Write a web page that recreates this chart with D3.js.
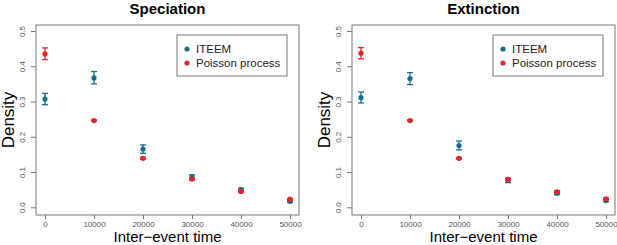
<!DOCTYPE html>
<html>
<head>
<meta charset="utf-8">
<script src="https://cdn.jsdelivr.net/npm/d3@7"></script>
<style>
  body { margin: 0; background: #fff; }
  text { font-family: "Liberation Sans", Arial, sans-serif; }
</style>
</head>
<body>
<svg id="chart"></svg>
<script>
let times = [0, 10000, 20000, 30000, 40000, 50000]
let xTicks = [0, 10000, 20000, 30000, 40000, 50000]
let yTicks = [0.0, 0.1, 0.2, 0.3, 0.4, 0.5]

// Speciation
let specIteem = [0.307, 0.367, 0.165, 0.087, 0.050, 0.017]
let specIteemLo = [0.291, 0.350, 0.153, 0.082, 0.046, 0.014]
let specIteemHi = [0.323, 0.385, 0.177, 0.092, 0.054, 0.020]
let specPois = [0.435, 0.246, 0.139, 0.080, 0.045, 0.023]
let specPoisLo = [0.419, 0.244, 0.137, 0.077, 0.042, 0.021]
let specPoisHi = [0.452, 0.248, 0.141, 0.083, 0.048, 0.025]

// Extinction
let extIteem = [0.311, 0.365, 0.175, 0.076, 0.040, 0.019]
let extIteemLo = [0.296, 0.348, 0.163, 0.070, 0.036, 0.016]
let extIteemHi = [0.327, 0.382, 0.188, 0.082, 0.044, 0.022]
let extPois = [0.437, 0.246, 0.139, 0.079, 0.044, 0.024]
let extPoisLo = [0.421, 0.244, 0.137, 0.076, 0.041, 0.022]
let extPoisHi = [0.453, 0.248, 0.141, 0.082, 0.047, 0.026]

let seriesNames = ['ITEEM', 'Poisson process']
let colors = ['#176d8c', '#e3262c']

let width = 617,
    height = 245

let $svg = d3.select('#chart')
    .attr('width', width)
    .attr('height', height)

function drawPanel(offsetX, title, series) {
    let box = {left: offsetX + 36, right: offsetX + 299, top: 25, bottom: 215}

    let xScale = d3.scaleLinear()
        .domain([0, 50000])
        .range([box.left + 9, box.right - 9])

    let yScale = d3.scaleLinear()
        .domain([0, 0.5])
        .range([207.3, 31])

    let $g = $svg.append('g')

    $g.append('rect')
        .attr('x', box.left)
        .attr('y', box.top)
        .attr('width', box.right - box.left)
        .attr('height', box.bottom - box.top)
        .attr('fill', 'none')
        .attr('stroke', '#777')
        .attr('stroke-width', 1)

    // y axis
    let yAxis = d3.axisLeft(yScale)
        .tickValues(yTicks)
        .tickSize(5)
        .tickFormat(d3.format('.1f'))
    let $y = $g.append('g')
        .attr('transform', 'translate(' + box.left + ',0)')
        .call(yAxis)
    $y.select('.domain').remove()
    $y.selectAll('.tick line').attr('stroke', '#777')
    $y.selectAll('.tick text')
        .attr('fill', '#555')
        .attr('font-size', 8)
        .attr('x', 0)
        .attr('y', 0)
        .attr('dy', 0)
        .attr('text-anchor', 'middle')
        .attr('transform', 'translate(-11,0) rotate(-90)')

    // x axis
    let xAxis = d3.axisBottom(xScale)
        .tickValues(xTicks)
        .tickSize(4)
        .tickFormat(d3.format('d'))
    let $x = $g.append('g')
        .attr('transform', 'translate(0,' + box.bottom + ')')
        .call(xAxis)
    $x.select('.domain').remove()
    $x.selectAll('.tick line').attr('stroke', '#777')
    $x.selectAll('.tick text')
        .attr('fill', '#555')
        .attr('font-size', 8)
        .attr('y', 6)

    // titles
    $g.append('text')
        .attr('x', (box.left + box.right) / 2)
        .attr('y', 14)
        .attr('text-anchor', 'middle')
        .attr('font-size', 15)
        .attr('font-weight', 'bold')
        .text(title)

    $g.append('text')
        .attr('x', (box.left + box.right) / 2)
        .attr('y', 242)
        .attr('text-anchor', 'middle')
        .attr('font-size', 15)
        .text('Inter\u2212event time')

    $g.append('text')
        .attr('transform', 'translate(' + (box.left - 22) + ',' + ((box.top + box.bottom) / 2) + ') rotate(-90)')
        .attr('text-anchor', 'middle')
        .attr('font-size', 17)
        .text('Density')

    // series: error bars + points
    series.forEach((s, k) => {
        let data = times.map((t, i) => ({t: t, v: s.v[i], lo: s.lo[i], hi: s.hi[i]}))
        let $s = $g.append('g')
            .attr('stroke', colors[k])
            .attr('fill', colors[k])

        $s.selectAll('line.bar').data(data).enter().append('line')
            .attr('class', 'bar')
            .attr('x1', d => xScale(d.t)).attr('x2', d => xScale(d.t))
            .attr('y1', d => yScale(d.lo)).attr('y2', d => yScale(d.hi))
            .attr('stroke-width', 1.3)
        $s.selectAll('line.capTop').data(data).enter().append('line')
            .attr('class', 'capTop')
            .attr('x1', d => xScale(d.t) - 3).attr('x2', d => xScale(d.t) + 3)
            .attr('y1', d => yScale(d.hi)).attr('y2', d => yScale(d.hi))
            .attr('stroke-width', 1.3)
        $s.selectAll('line.capBot').data(data).enter().append('line')
            .attr('class', 'capBot')
            .attr('x1', d => xScale(d.t) - 3).attr('x2', d => xScale(d.t) + 3)
            .attr('y1', d => yScale(d.lo)).attr('y2', d => yScale(d.lo))
            .attr('stroke-width', 1.3)
        $s.selectAll('circle').data(data).enter().append('circle')
            .attr('cx', d => xScale(d.t))
            .attr('cy', d => yScale(d.v))
            .attr('r', 2.6)
            .attr('stroke', 'none')
    })

    // legend
    let lx = box.left + 141, ly = 35
    $g.append('rect')
        .attr('x', lx).attr('y', ly)
        .attr('width', 110).attr('height', 41)
        .attr('fill', '#fff')
        .attr('stroke', '#777')
    seriesNames.forEach((name, k) => {
        $g.append('circle')
            .attr('cx', lx + 10).attr('cy', ly + 14 + k * 14)
            .attr('r', 2.6)
            .attr('fill', colors[k])
        $g.append('text')
            .attr('x', lx + 19).attr('y', ly + 18 + k * 14)
            .attr('font-size', 11.5)
            .attr('fill', '#222')
            .text(name)
    })
}

drawPanel(0, 'Speciation', [
    {v: specIteem, lo: specIteemLo, hi: specIteemHi},
    {v: specPois, lo: specPoisLo, hi: specPoisHi}
])
drawPanel(316, 'Extinction', [
    {v: extIteem, lo: extIteemLo, hi: extIteemHi},
    {v: extPois, lo: extPoisLo, hi: extPoisHi}
])
</script>
</body>
</html>
